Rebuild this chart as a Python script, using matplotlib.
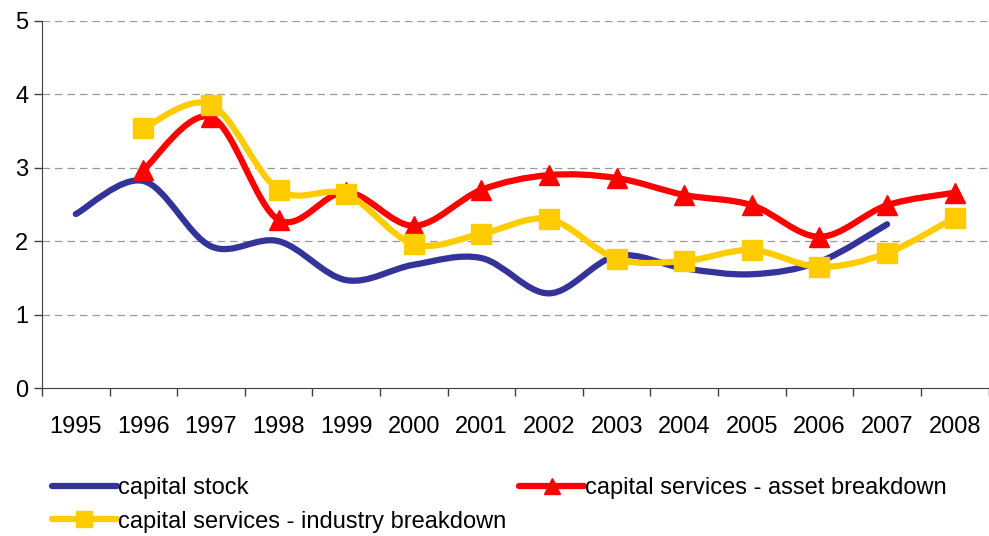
import matplotlib.pyplot as plt
import numpy as np
from matplotlib.path import Path
from matplotlib.patches import PathPatch
from matplotlib.lines import Line2D

plt.rcParams['font.family'] = ['Liberation Sans', 'DejaVu Sans']

years = ['1995', '1996', '1997', '1998', '1999', '2000', '2001',
         '2002', '2003', '2004', '2005', '2006', '2007', '2008']

# capital stock: 1995-2007
stock = [2.37, 2.82, 1.93, 2.00, 1.47, 1.68, 1.77, 1.29, 1.80, 1.63, 1.55, 1.72, 2.23]
# capital services - asset breakdown: 1996-2008
asset = [2.97, 3.69, 2.29, 2.67, 2.21, 2.70, 2.90, 2.86, 2.63, 2.49, 2.06, 2.49, 2.66]
# capital services - industry breakdown: 1996-2008
industry = [3.54, 3.86, 2.70, 2.64, 1.96, 2.10, 2.30, 1.76, 1.73, 1.88, 1.65, 1.84, 2.32]

blue = '#333399'
red = '#FF0000'
yellow = '#FFCC00'


def smooth_path(x, y):
    # excel-like smoothed line: catmull-rom turned into cubic beziers
    pts = np.column_stack([x, y]).astype(float)
    n = len(pts)
    verts = [pts[0]]
    codes = [Path.MOVETO]
    for i in range(n - 1):
        p0 = pts[i - 1] if i > 0 else pts[i]
        p1 = pts[i]
        p2 = pts[i + 1]
        p3 = pts[i + 2] if i + 2 < n else pts[i + 1]
        c1 = p1 + (p2 - p0) / 6.0
        c2 = p2 - (p3 - p1) / 6.0
        verts += [c1, c2, p2]
        codes += [Path.CURVE4] * 3
    return Path(verts, codes)


fig = plt.figure(figsize=(9.89, 5.36), dpi=100)
ax = fig.add_axes([0.0425, 0.276, 0.957, 0.685])

x_stock = np.arange(0, len(stock))
x_serv = np.arange(1, 1 + len(asset))

for xs, ys, col in [(x_stock, stock, blue), (x_serv, asset, red), (x_serv, industry, yellow)]:
    ax.add_patch(PathPatch(smooth_path(xs, ys), facecolor='none', edgecolor=col,
                           lw=4.5, capstyle='round', joinstyle='round', zorder=3))

ax.plot(x_serv, asset, linestyle='none', marker='^', color=red, markersize=14, zorder=4)
ax.plot(x_serv, industry, linestyle='none', marker='s', color=yellow, markersize=14, zorder=5)

ax.set_xlim(-0.5, len(years) - 0.5)
ax.set_ylim(0, 5)
ax.set_yticks([0, 1, 2, 3, 4, 5])
ax.set_xticks(np.arange(len(years)))
ax.set_xticklabels(years)
ax.set_xticks(np.arange(-0.5, len(years), 1), minor=True)
ax.tick_params(axis='x', which='major', length=0, pad=20, labelsize=17)
ax.tick_params(axis='x', which='minor', length=6, width=1, color='#404040')
ax.tick_params(axis='y', length=6, width=1, color='#404040', labelsize=17, pad=4)

for v in [1, 2, 3, 4, 5]:
    ax.axhline(v, color='#999999', lw=0.9, linestyle=(0, (6, 4)), zorder=1)

ax.spines['top'].set_visible(False)
ax.spines['right'].set_visible(False)
ax.spines['left'].set_color('#404040')
ax.spines['bottom'].set_color('#404040')

handles = [
    Line2D([], [], color=blue, lw=4.5, solid_capstyle='round'),
    Line2D([], [], color=yellow, lw=4.5, marker='s', markersize=11, solid_capstyle='round'),
    Line2D([], [], color=red, lw=4.5, marker='^', markersize=11, solid_capstyle='round'),
]
labels = ['capital stock', 'capital services - industry breakdown',
          'capital services - asset breakdown']
fig.legend(handles, labels, ncol=2, loc='upper left', bbox_to_anchor=(0.043, 0.128),
           frameon=False, fontsize=17, handlelength=2.75, handletextpad=0.05,
           columnspacing=0.55, labelspacing=0.5, borderaxespad=0)

fig.savefig('out.png', dpi=100)
